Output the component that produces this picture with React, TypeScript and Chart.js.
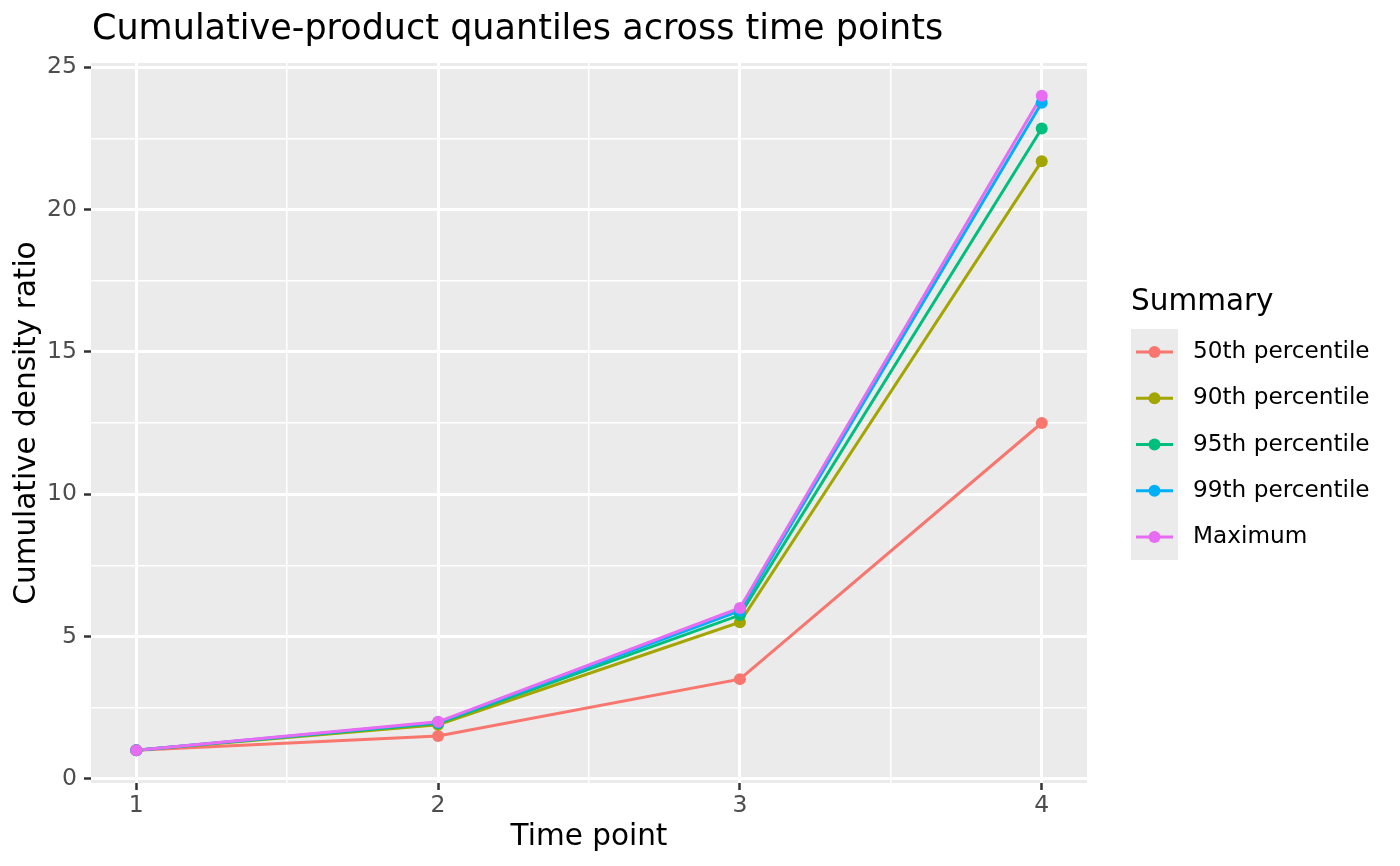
import { useEffect, useRef } from "react";
import { Chart, registerables } from "chart.js";

Chart.register(...registerables);

const timePoints = [1, 2, 3, 4];
const p50 = [1, 1.5, 3.5, 12.5];
const p90 = [1, 1.9, 5.5, 21.7];
const p95 = [1, 1.95, 5.75, 22.85];
const p99 = [1, 1.98, 5.9, 23.75];
const pMax = [1, 2.0, 6.0, 24.0];

const seriesLabels = [
  "50th percentile",
  "90th percentile",
  "95th percentile",
  "99th percentile",
  "Maximum",
];
const seriesColors = ["#F8766D", "#A3A500", "#00BF7D", "#00B0F6", "#E76BF3"];
const seriesValues = [p50, p90, p95, p99, pMax];

const xMajor = [1, 2, 3, 4];
const xMinor = [1.5, 2.5, 3.5];
const yMajor = [0, 5, 10, 15, 20, 25];
const yMinor = [2.5, 7.5, 12.5, 17.5, 22.5];

const FONT = "'DejaVu Sans', sans-serif";

export default function App() {
  const chartRef = useRef<HTMLCanvasElement>(null);

  useEffect(() => {
    document.body.style.margin = "0";
    if (!chartRef.current) return;
    const ctx = chartRef.current.getContext("2d");
    if (!ctx) return;

    const points = (vals: number[]) =>
      timePoints.map((x, i) => ({ x, y: vals[i] }));

    // ggplot draws all lines first, then all points on top
    const lineSets = seriesValues.map((vals, i) => ({
      label: seriesLabels[i],
      data: points(vals),
      borderColor: seriesColors[i],
      backgroundColor: seriesColors[i],
      borderWidth: 3,
      pointRadius: 0,
      tension: 0,
      order: 10 - i,
    }));
    const pointSets = seriesValues.map((vals, i) => ({
      label: seriesLabels[i] + " points",
      data: points(vals),
      borderColor: seriesColors[i],
      backgroundColor: seriesColors[i],
      showLine: false,
      pointRadius: 6,
      pointBorderWidth: 0,
      order: 5 - i,
    }));

    const isMajor = (list: number[], v: number | undefined) =>
      v !== undefined && list.some((m) => Math.abs(m - v) < 1e-9);

    const ggplotDecor = {
      id: "ggplotDecor",
      beforeDraw(chart: Chart) {
        const { ctx, chartArea } = chart;
        ctx.save();
        ctx.fillStyle = "#EBEBEB";
        ctx.fillRect(
          chartArea.left,
          chartArea.top,
          chartArea.right - chartArea.left,
          chartArea.bottom - chartArea.top,
        );
        ctx.restore();
      },
      afterDraw(chart: Chart) {
        const { ctx, chartArea } = chart;
        ctx.save();
        // title
        ctx.fillStyle = "#000000";
        ctx.font = `35px ${FONT}`;
        ctx.textAlign = "left";
        ctx.textBaseline = "middle";
        ctx.fillText(
          "Cumulative-product quantiles across time points",
          chartArea.left + 1,
          30,
        );
        // legend
        const lx = 1131;
        ctx.font = `29.5px ${FONT}`;
        ctx.fillText("Summary", lx, 302);
        const rowH = 46.2;
        const top = 329;
        ctx.fillStyle = "#EBEBEB";
        ctx.fillRect(lx, top, 47, rowH * seriesLabels.length);
        ctx.font = `23.2px ${FONT}`;
        seriesLabels.forEach((label, i) => {
          const cy = top + rowH * i + rowH / 2;
          ctx.strokeStyle = seriesColors[i];
          ctx.lineWidth = 3;
          ctx.beginPath();
          ctx.moveTo(lx + 5, cy);
          ctx.lineTo(lx + 42, cy);
          ctx.stroke();
          ctx.fillStyle = seriesColors[i];
          ctx.beginPath();
          ctx.arc(lx + 23.5, cy, 6, 0, Math.PI * 2);
          ctx.fill();
          ctx.fillStyle = "#000000";
          ctx.fillText(label, 1193, cy);
        });
        ctx.restore();
      },
    };

    const chart = new Chart(ctx, {
      type: "line",
      data: { datasets: [...lineSets, ...pointSets] as any },
      options: {
        animation: false,
        responsive: true,
        maintainAspectRatio: false,
        layout: { padding: { top: 63, right: 313, left: 0, bottom: 0 } },
        plugins: {
          legend: { display: false },
          title: { display: false },
          tooltip: { enabled: false },
        },
        scales: {
          x: {
            type: "linear",
            min: 0.85,
            max: 4.15,
            afterBuildTicks: (scale: any) => {
              scale.ticks = [...xMajor, ...xMinor]
                .sort((a, b) => a - b)
                .map((value) => ({ value }));
            },
            afterFit: (scale: any) => {
              scale.height = 83;
            },
            border: { display: false },
            grid: {
              color: "#FFFFFF",
              lineWidth: (c: any) => (isMajor(xMajor, c.tick?.value) ? 3 : 1.5),
              tickColor: (c: any) =>
                isMajor(xMajor, c.tick?.value) ? "#333333" : "rgba(0,0,0,0)",
              tickLength: 7,
              tickWidth: 2.5,
            },
            ticks: {
              autoSkip: false,
              maxRotation: 0,
              padding: 2,
              color: "#4D4D4D",
              font: { family: FONT, size: 23.5 },
              callback: (v: any) => (isMajor(xMajor, v) ? String(v) : ""),
            },
            title: {
              display: true,
              text: "Time point",
              color: "#000000",
              font: { family: FONT, size: 29.5 },
              padding: { top: 0, bottom: 11 },
            },
          },
          y: {
            type: "linear",
            min: -0.15,
            max: 25.15,
            afterBuildTicks: (scale: any) => {
              scale.ticks = [...yMajor, ...yMinor]
                .sort((a, b) => a - b)
                .map((value) => ({ value }));
            },
            afterFit: (scale: any) => {
              scale.width = 91;
            },
            border: { display: false },
            grid: {
              color: "#FFFFFF",
              lineWidth: (c: any) => (isMajor(yMajor, c.tick?.value) ? 3 : 1.5),
              tickColor: (c: any) =>
                isMajor(yMajor, c.tick?.value) ? "#333333" : "rgba(0,0,0,0)",
              tickLength: 7,
              tickWidth: 2.5,
            },
            ticks: {
              autoSkip: false,
              padding: 7,
              color: "#4D4D4D",
              font: { family: FONT, size: 23.5 },
              callback: (v: any) => (isMajor(yMajor, v) ? String(v) : ""),
            },
            title: {
              display: true,
              text: "Cumulative density ratio",
              color: "#000000",
              font: { family: FONT, size: 29.5 },
              padding: { top: 10, bottom: 0 },
            },
          },
        },
      },
      plugins: [ggplotDecor],
    });

    return () => chart.destroy();
  }, []);

  return (
    <div style={{ width: 1400, height: 866, position: "relative" }}>
      <canvas ref={chartRef} />
    </div>
  );
}
